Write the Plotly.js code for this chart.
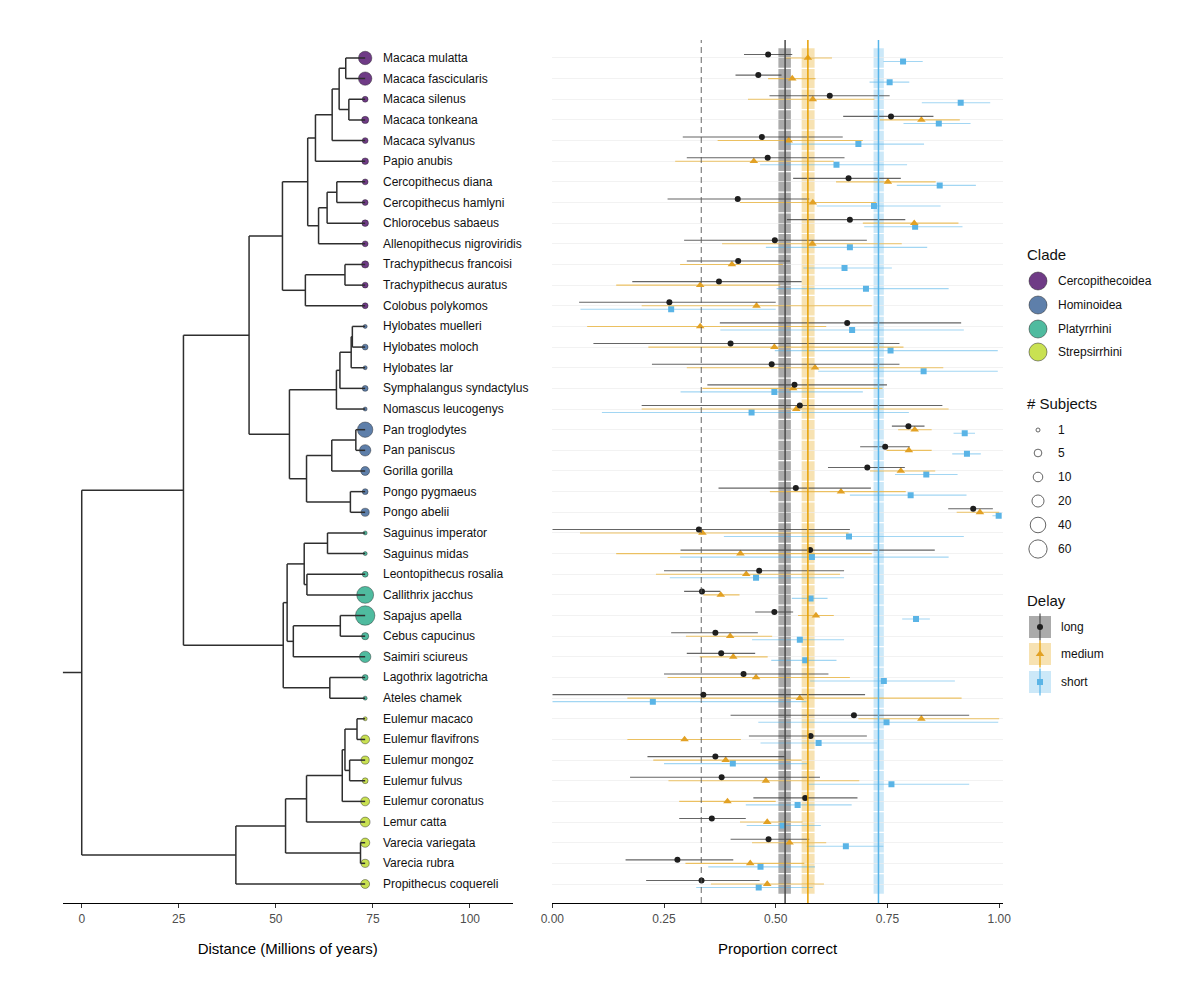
<!DOCTYPE html>
<html><head><meta charset="utf-8">
<script src="https://cdn.plot.ly/plotly-3.0.1.min.js"></script>
<style>html,body{margin:0;padding:0;background:#fff}#chart{width:1200px;height:1000px}</style>
</head><body><div id="chart"></div>
<script>
const species = ['Macaca mulatta','Macaca fascicularis','Macaca silenus','Macaca tonkeana','Macaca sylvanus','Papio anubis','Cercopithecus diana','Cercopithecus hamlyni','Chlorocebus sabaeus','Allenopithecus nigroviridis','Trachypithecus francoisi','Trachypithecus auratus','Colobus polykomos','Hylobates muelleri','Hylobates moloch','Hylobates lar','Symphalangus syndactylus','Nomascus leucogenys','Pan troglodytes','Pan paniscus','Gorilla gorilla','Pongo pygmaeus','Pongo abelii','Saguinus imperator','Saguinus midas','Leontopithecus rosalia','Callithrix jacchus','Sapajus apella','Cebus capucinus','Saimiri sciureus','Lagothrix lagotricha','Ateles chamek','Eulemur macaco','Eulemur flavifrons','Eulemur mongoz','Eulemur fulvus','Eulemur coronatus','Lemur catta','Varecia variegata','Varecia rubra','Propithecus coquereli'];
const cladeNames = ['Cercopithecoidea','Hominoidea','Platyrrhini','Strepsirrhini'];
const cladeColors = ['#6F3B86','#5E7FAA','#4FBB9F','#C9E152'];
const speciesClade = [0,0,0,0,0,0,0,0,0,0,0,0,0, 1,1,1,1,1,1,1,1,1,1, 2,2,2,2,2,2,2,2,2, 3,3,3,3,3,3,3,3,3];
const subjects = [27,27,2,4,2,3,2,2,3,2,4,2,2, 1,2,1,2,1,39,17,8,2,6, 1,1,2,50,71,4,17,2,1, 1,8,6,2,8,11,9,6,8];

// tree: internal nodes (children are tip indices or node names) and node ages
const nodeNames = ['n1','n2','n3','n4','n5','n6','n7','n8','n9','n10','n11','n12','n13','n14','n15','n16','n17','n18','n19','n20','n21','n22','n23','n24','n25','n26','n27','n28','n29','n30','n31','n32','n33','n34','n35','n36','n37','n38','n39','n40'];
const nodeKids = [[0,1],[2,3],['n1','n2'],['n3',4],['n4',5],[6,7],['n6',8],['n7',9],['n5','n8'],[10,11],['n10',12],['n9','n11'],[13,14],['n13',15],['n14',16],['n15',17],[18,19],['n17',20],[21,22],['n18','n19'],['n16','n20'],['n12','n21'],[23,24],[25,26],['n23','n24'],[27,28],['n26',29],['n25','n27'],[30,31],['n28','n29'],['n22','n30'],[32,33],[34,35],['n32','n33'],['n34',36],['n35',37],[38,39],['n36','n37'],['n38',40],['n31','n39']];
const nodeAges = [68.0,68.8,66.3,64.5,60.2,65.7,63.2,61.0,58.2,67.8,57.6,51.7,69.7,69.4,66.5,65.6,70.6,64.4,69.2,57.9,53.5,43.1,63.3,58.0,57.3,66.6,54.5,52.9,63.9,51.9,26.2,70.9,69.0,67.8,67.1,57.9,71.8,52.5,39.7,0];
const tipAge = 73.0;
const rootStem = -4.9;

// proportion correct per delay
const longMean = [0.483,0.461,0.621,0.758,0.469,0.482,0.663,0.415,0.666,0.498,0.416,0.373,0.262,0.660,0.399,0.491,0.542,0.554,0.797,0.745,0.705,0.545,0.942,0.328,0.577,0.463,0.335,0.497,0.365,0.378,0.428,0.338,0.675,0.578,0.365,0.379,0.566,0.357,0.484,0.280,0.334];
const longLow  = [0.429,0.410,0.486,0.651,0.292,0.301,0.539,0.258,0.525,0.295,0.301,0.179,0.060,0.375,0.092,0.223,0.347,0.200,0.760,0.689,0.617,0.372,0.886,0.000,0.287,0.250,0.295,0.454,0.266,0.301,0.250,0.000,0.399,0.440,0.213,0.174,0.450,0.284,0.399,0.164,0.210];
const longHigh = [0.537,0.513,0.755,0.853,0.650,0.654,0.780,0.575,0.790,0.704,0.532,0.558,0.500,0.915,0.777,0.777,0.749,0.873,0.833,0.800,0.789,0.713,0.986,0.666,0.856,0.653,0.376,0.539,0.460,0.454,0.618,0.700,0.933,0.704,0.520,0.599,0.683,0.433,0.575,0.405,0.464];
const medMean = [0.572,0.537,0.583,0.826,0.529,0.451,0.751,0.583,0.810,0.582,0.402,0.331,0.457,0.331,0.497,0.588,0.539,0.546,0.811,0.798,0.780,0.646,0.957,0.336,0.421,0.434,0.377,0.590,0.398,0.405,0.456,0.554,0.826,0.296,0.388,0.478,0.392,0.481,0.531,0.443,0.481];
const medLow  = [0.520,0.483,0.438,0.733,0.370,0.275,0.635,0.420,0.695,0.380,0.286,0.143,0.200,0.078,0.215,0.301,0.336,0.200,0.774,0.748,0.711,0.487,0.905,0.062,0.143,0.232,0.338,0.550,0.299,0.330,0.258,0.168,0.685,0.168,0.226,0.260,0.284,0.420,0.447,0.298,0.355];
const medHigh = [0.626,0.589,0.721,0.912,0.695,0.630,0.858,0.725,0.909,0.782,0.516,0.510,0.715,0.613,0.786,0.875,0.739,0.887,0.849,0.849,0.857,0.791,1.000,0.663,0.715,0.644,0.419,0.630,0.492,0.482,0.666,0.916,1.000,0.422,0.558,0.687,0.500,0.560,0.613,0.564,0.608];
const shortMean = [0.785,0.755,0.914,0.865,0.685,0.636,0.867,0.720,0.812,0.666,0.654,0.702,0.266,0.671,0.757,0.831,0.497,0.446,0.923,0.928,0.837,0.802,0.999,0.664,0.581,0.456,0.578,0.814,0.554,0.566,0.742,0.225,0.748,0.596,0.404,0.759,0.549,0.516,0.657,0.466,0.462];
const shortLow  = [0.741,0.710,0.827,0.786,0.520,0.465,0.771,0.592,0.698,0.478,0.562,0.502,0.063,0.376,0.498,0.595,0.287,0.111,0.898,0.895,0.767,0.666,0.985,0.384,0.286,0.263,0.536,0.783,0.447,0.490,0.577,0.000,0.461,0.466,0.250,0.573,0.433,0.435,0.569,0.349,0.322];
const shortHigh = [0.829,0.799,0.980,0.936,0.832,0.794,0.948,0.869,0.918,0.839,0.760,0.887,0.500,0.921,0.997,0.997,0.695,0.798,0.946,0.959,0.907,0.927,1.000,0.921,0.887,0.653,0.616,0.845,0.653,0.636,0.901,0.569,0.998,0.727,0.573,0.933,0.670,0.601,0.741,0.588,0.583];

const delays = ['long','medium','short'];
const delayOverall = [0.521,0.572,0.730];
const delayOverallLow = [0.506,0.558,0.719];
const delayOverallHigh = [0.534,0.587,0.742];
const chanceLevel = 1/3;
const subjectLegend = [1,5,10,20,40,60];
const treeTicks = [0,25,50,75,100];
const propTicks = [0,0.25,0.5,0.75,1];

// ---------- styles ----------
const FONT = 'Liberation Sans, Arial, sans-serif';
const delayPoint = ['#1E1E1E','#E2A124','#5AB4E6'];
const delayErr = ['rgba(50,50,50,0.75)','rgba(230,159,0,0.6)','rgba(86,180,233,0.55)'];
const delayBand = ['rgba(0,0,0,0.33)','rgba(230,159,0,0.3)','rgba(86,180,233,0.3)'];
const delayLine = ['#4A4A4A','#E69F00','#56B4E9'];
const delaySymbol = ['circle','triangle-up','square'];
const delaySize = [6,7.5,6];
const dodge = [0.17,0,-0.17];
const sizeOf = n => 4 + 1.85*Math.sqrt(n-1);

const N = species.length;
const rowY = species.map((s,i)=>N-i);

// node positions
const nodeY = {}, nodeX = {};
nodeNames.forEach((nm,k)=>{nodeX[nm]=nodeAges[k];});
function yOf(c){ if(typeof c==='number') return rowY[c]; if(nodeY[c]!==undefined) return nodeY[c];
  const k=nodeNames.indexOf(c); const ys=nodeKids[k].map(yOf); nodeY[c]=(ys[0]+ys[1])/2; return nodeY[c]; }
function xOf(c){ return typeof c==='number'? tipAge : nodeX[c]; }
nodeNames.forEach(yOf);

const tx=[], ty=[];
nodeNames.forEach((nm,k)=>{
  const kids=nodeKids[k];
  const ys=kids.map(yOf);
  tx.push(nodeX[nm],nodeX[nm],null); ty.push(Math.min(...ys),Math.max(...ys),null);
  kids.forEach(c=>{ tx.push(nodeX[nm],xOf(c),null); ty.push(yOf(c),yOf(c),null); });
});
const rootName = nodeNames[nodeNames.length-1];
tx.push(rootStem,nodeX[rootName],null); ty.push(nodeY[rootName],nodeY[rootName],null);

const traces = [];
traces.push({type:'scatter',mode:'markers',x:species.map(()=>tipAge),y:rowY,xaxis:'x',yaxis:'y',
  marker:{size:subjects.map(sizeOf),opacity:1,color:speciesClade.map(c=>cladeColors[c]),line:{color:'rgba(30,30,30,0.6)',width:0.7}},
  hoverinfo:'text',text:species,showlegend:false});
traces.push({type:'scatter',mode:'lines',x:tx,y:ty,xaxis:'x',yaxis:'y',line:{color:'#2E2E2E',width:1.5},hoverinfo:'skip',showlegend:false});

const means=[longMean,medMean,shortMean], lows=[longLow,medLow,shortLow], highs=[longHigh,medHigh,shortHigh];
[2,1,0].forEach(d=>{
  traces.push({type:'scatter',mode:'markers',name:delays[d],xaxis:'x2',yaxis:'y2',
    x:means[d], y:rowY.map(v=>v+dodge[d]),
    error_x:{type:'data',symmetric:false,array:means[d].map((m,i)=>highs[d][i]-m),arrayminus:means[d].map((m,i)=>m-lows[d][i]),color:delayErr[d],thickness:1.1,width:0},
    marker:{symbol:delaySymbol[d],size:delaySize[d],color:delayPoint[d],opacity:1},showlegend:false});
});

// ---------- legend (pixel-space axes) ----------
const legX = 1038;
const cladeLegY = [281,305,329,352];
traces.push({type:'scatter',mode:'markers',xaxis:'x3',yaxis:'y3',x:cladeNames.map(()=>legX),y:cladeLegY,
  marker:{size:18,opacity:1,color:cladeColors,line:{color:'rgba(30,30,30,0.6)',width:0.8}},hoverinfo:'skip',showlegend:false});
const subjLegY = [430,453,477,501,525,549];
traces.push({type:'scatter',mode:'markers',xaxis:'x3',yaxis:'y3',x:subjectLegend.map(()=>legX),y:subjLegY,
  marker:{size:subjectLegend.map(sizeOf),opacity:1,color:'#ffffff',line:{color:'#555555',width:0.9}},hoverinfo:'skip',showlegend:false});
const delayLegY = [627,654,682];
delays.forEach((d,k)=>{
  traces.push({type:'scatter',mode:'markers',xaxis:'x3',yaxis:'y3',x:[1040],y:[delayLegY[k]],
    marker:{symbol:delaySymbol[k],size:delaySize[k],color:delayPoint[k]},hoverinfo:'skip',showlegend:false});
});

const shapes = [];
// per-row bands
delays.forEach((d,k)=>{
  rowY.forEach(y=>{
    shapes.push({type:'rect',xref:'x2',yref:'y2',x0:delayOverallLow[k],x1:delayOverallHigh[k],y0:y-0.47,y1:y+0.47,fillcolor:delayBand[k],line:{width:0},layer:'below'});
  });
});
delays.forEach((d,k)=>{
  shapes.push({type:'line',xref:'x2',yref:'y2 domain',x0:delayOverall[k],x1:delayOverall[k],y0:0,y1:1,line:{color:delayLine[k],width:1.5}});
});
shapes.push({type:'line',xref:'x2',yref:'y2 domain',x0:chanceLevel,x1:chanceLevel,y0:0,y1:1,line:{color:'#555555',width:0.9,dash:'6px,4px'}});
// delay legend keys
delays.forEach((d,k)=>{
  shapes.push({type:'rect',xref:'x3',yref:'y3',x0:1029,x1:1051,y0:delayLegY[k]-11,y1:delayLegY[k]+11,fillcolor:delayBand[k],line:{width:0},layer:'below'});
  shapes.push({type:'line',xref:'x3',yref:'y3',x0:1040,x1:1040,y0:delayLegY[k]-13.5,y1:delayLegY[k]+13.5,line:{color:delayLine[k],width:1.2},layer:'below'});
});

const annotations = [];
species.forEach((s,i)=>{
  annotations.push({xref:'x',yref:'y',x:tipAge,y:rowY[i],text:s,showarrow:false,xanchor:'left',xshift:16,font:{family:FONT,size:12,color:'#111111'}});
});
const legTitle = (t,y)=>({xref:'x3',yref:'y3',x:1025,y:y,text:t,showarrow:false,xanchor:'left',yanchor:'middle',font:{family:FONT,size:15,color:'#111111'}});
const legText = (t,x,y)=>({xref:'x3',yref:'y3',x:x,y:y,text:t,showarrow:false,xanchor:'left',yanchor:'middle',font:{family:FONT,size:12,color:'#111111'}});
annotations.push(legTitle('Clade',254));
cladeNames.forEach((c,k)=>annotations.push(legText(c,1056,cladeLegY[k])));
annotations.push(legTitle('# Subjects',403));
subjectLegend.forEach((n,k)=>annotations.push(legText(String(n),1056,subjLegY[k])));
annotations.push(legTitle('Delay',600));
delays.forEach((d,k)=>annotations.push(legText(d,1059,delayLegY[k])));

const yRange=[0.08,41.87];
const yDom=[0.097,0.96];
const axBase = {showline:true,linecolor:'#000000',linewidth:1.2,ticks:'outside',ticklen:4,tickcolor:'#333333',tickwidth:1,
  showgrid:false,zeroline:false,tickfont:{family:FONT,size:12,color:'#4D4D4D'}};
const layout = {
  width:1200,height:1000,margin:{l:0,r:0,t:0,b:0},paper_bgcolor:'#ffffff',plot_bgcolor:'rgba(0,0,0,0)',showlegend:false,
  font:{family:FONT},
  xaxis:Object.assign({},axBase,{domain:[62.7/1200,512.7/1200],range:[rootStem,111],anchor:'y',tickvals:treeTicks,
    title:{text:'Distance (Millions of years)',font:{family:FONT,size:15,color:'#000000'},standoff:19}}),
  yaxis:{domain:yDom,range:yRange,anchor:'x',showline:false,showgrid:false,zeroline:false,showticklabels:false,ticks:''},
  xaxis2:Object.assign({},axBase,{domain:[552.3/1200,1002.7/1200],range:[0,1.008],anchor:'y2',tickvals:propTicks,tickformat:'.2f',
    title:{text:'Proportion correct',font:{family:FONT,size:15,color:'#000000'},standoff:19}}),
  yaxis2:{domain:yDom,range:yRange,anchor:'x2',showline:false,showgrid:true,gridcolor:'#EDEDED',gridwidth:0.7,tick0:1,dtick:1,zeroline:false,showticklabels:false,ticks:''},
  xaxis3:{domain:[1008/1200,1],range:[1008,1200],anchor:'y3',visible:false,fixedrange:true},
  yaxis3:{domain:[0,1],range:[1000,0],anchor:'x3',visible:false,fixedrange:true},
  shapes:shapes,annotations:annotations
};
Plotly.newPlot('chart',traces,layout,{displayModeBar:false,staticPlot:true});
</script></body></html>
